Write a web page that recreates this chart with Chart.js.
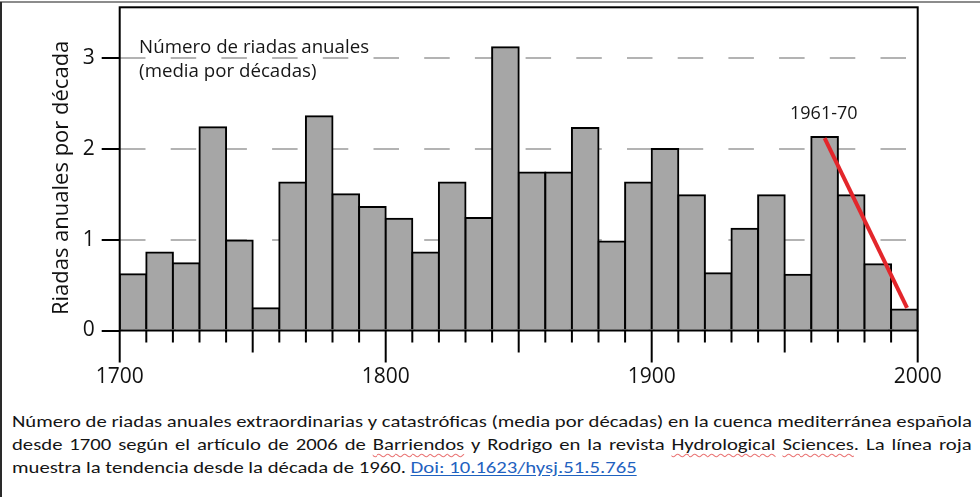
<!DOCTYPE html>
<html>
<head>
<meta charset="utf-8">
<script src="https://cdn.jsdelivr.net/npm/chart.js@4"></script>
<style>
html,body{margin:0;padding:0;background:#fff;}
#wrap{position:relative;width:980px;height:497px;overflow:hidden;background:#fff;}
#c{position:absolute;left:0;top:0;}
.frame-top{position:absolute;left:0;top:1px;width:980px;height:0;border-top:2px solid #8c8c8c;}
.frame-left{position:absolute;left:0;top:2px;width:0;height:495px;border-left:2px solid #2a2a2a;}
.cap{position:absolute;left:12px;white-space:nowrap;font-family:'Liberation Sans Narrow','Carlito','Arial Narrow','Liberation Sans',sans-serif;font-size:17px;line-height:23px;color:#151515;transform-origin:0 0;}
.sp{text-decoration:underline wavy rgba(225,70,70,0.75);text-decoration-thickness:1px;text-underline-offset:3px;}
.lnk{color:#1f62c0;text-decoration:underline;text-decoration-color:#1f62c0;text-underline-offset:2px;}
</style>
</head>
<body>
<div id="wrap">
<canvas id="c" width="980" height="400"></canvas>
<div class="frame-top"></div><div class="frame-left"></div>
<div class="cap" id="l1" style="top:410px">Número de riadas anuales extraordinarias y catastróficas (media por décadas) en la cuenca mediterránea española</div>
<div class="cap" id="l2" style="top:433px">desde 1700 según el artículo de 2006 de <span class="sp">Barriendos</span> y Rodrigo en la revista <span class="sp">Hydrological</span> <span class="sp">Sciences</span>. La línea roja</div>
<div class="cap" id="l3" style="top:456px">muestra la tendencia desde la década de 1960. <a class="lnk">Doi: 10.1623/hysj.51.5.765</a></div>
</div>
<script>
// Decade centres (categories)
const decades = [1705, 1715, 1725, 1735, 1745, 1755, 1765, 1775, 1785, 1795,
                 1805, 1815, 1825, 1835, 1845, 1855, 1865, 1875, 1885, 1895,
                 1905, 1915, 1925, 1935, 1945, 1955, 1965, 1975, 1985, 1995];
// Mean annual floods per decade
const floods = [0.62, 0.86, 0.74, 2.24, 0.99, 0.245, 1.63, 2.36, 1.50, 1.36,
                1.23, 0.86, 1.63, 1.24, 3.12, 1.74, 1.74, 2.23, 0.98, 1.63,
                2.00, 1.49, 0.63, 1.12, 1.49, 0.615, 2.13, 1.49, 0.73, 0.23];
// Red trend line since the 1960s
const trendX = [1965, 1996];
const trendY = [2.12, 0.25];
// Tick labels
const xLabels = [1700, 1800, 1900, 2000];
const yTicks = [0, 1, 2, 3];
const yTitle = 'Riadas anuales por década';
const annotLines = ['Número de riadas anuales', '(media por décadas)'];
const peakLabel = '1961-70';

const decor = {
  id: 'decor',
  afterDatasetsDraw(chart) {
    const {ctx, chartArea: a, scales: {x, y}} = chart;
    ctx.save();
    ctx.strokeStyle = '#000';
    ctx.lineWidth = 2;
    ctx.strokeRect(a.left, a.top, a.right - a.left, a.bottom - a.top);
    // decade tick marks
    x.ticks.forEach(t => {
      const v = Math.round(t.value);
      const px = x.getPixelForValue(v);
      const len = v % 100 === 0 ? 32 : (v % 50 === 0 ? 22 : 12);
      ctx.beginPath();
      ctx.moveTo(px, a.bottom);
      ctx.lineTo(px, a.bottom + len);
      ctx.stroke();
    });
    // annotations
    ctx.fillStyle = '#161616';
    ctx.textBaseline = 'alphabetic';
    ctx.textAlign = 'left';
    ctx.font = '18.7px "Open Sans"';
    ctx.fillText(annotLines[0], x.getPixelForValue(1707.3), y.getPixelForValue(3.055));
    ctx.fillText(annotLines[1], x.getPixelForValue(1707.3), y.getPixelForValue(2.79));
    ctx.textAlign = 'center';
    ctx.font = '18px "Open Sans"';
    ctx.fillText(peakLabel, x.getPixelForValue(1964.7), y.getPixelForValue(2.33));
    // y axis title
    ctx.save();
    ctx.translate(62, (a.top + a.bottom) / 2 + 9);
    ctx.rotate(-Math.PI / 2);
    ctx.font = '22px "Open Sans"';
    ctx.fillStyle = '#111';
    ctx.textAlign = 'center';
    ctx.textBaseline = 'middle';
    ctx.fillText(yTitle, 0, 0);
    ctx.restore();
    ctx.restore();
  }
};

new Chart(document.getElementById('c'), {
  data: {
    datasets: [
      {
        type: 'line',
        data: trendX.map((v, i) => ({x: v, y: trendY[i]})),
        borderColor: '#e3262b',
        borderWidth: 4,
        pointRadius: 0,
        borderCapStyle: 'butt',
        order: 0
      },
      {
        type: 'bar',
        data: decades.map((v, i) => ({x: v, y: floods[i]})),
        backgroundColor: '#a6a6a6',
        borderColor: '#000',
        borderWidth: 2,
        inflateAmount: 1,
        barPercentage: 1,
        categoryPercentage: 1,
        order: 1
      }
    ]
  },
  options: {
    responsive: false,
    animation: false,
    layout: {padding: {left: 0, right: 62.3, top: 7.3, bottom: 0}},
    plugins: {legend: {display: false}, tooltip: {enabled: false}},
    scales: {
      x: {
        type: 'linear', min: 1700, max: 2000, offset: false,
        grid: {display: true, drawOnChartArea: false, drawTicks: true, tickLength: 32, tickColor: 'rgba(0,0,0,0)', offset: false},
        border: {display: false},
        ticks: {
          stepSize: 10, autoSkip: false, maxRotation: 0, padding: 2, color: '#111',
          font: {family: 'Open Sans', size: 21},
          callback: v => xLabels.includes(Math.round(v)) ? String(Math.round(v)) : ''
        },
        afterFit: s => { s.height = 400 - 330.5; s.paddingLeft = 0; s.paddingRight = 0; }
      },
      y: {
        min: 0, max: 3.56,
        afterBuildTicks: s => { s.ticks = yTicks.map(v => ({value: v})); },
        grid: {
          color: c => (c.tick && c.tick.value === 0) ? 'rgba(0,0,0,0)' : '#b3b3b3',
          lineWidth: 2, tickLength: 18, tickColor: '#000', tickWidth: 2
        },
        border: {display: false, dash: [25.5, 25.2]},
        ticks: {padding: 7, color: '#111', font: {family: 'Open Sans', size: 21}},
        title: {display: false},
        afterFit: s => { s.width = 119.7; s.paddingTop = 0; s.paddingBottom = 0; }
      }
    }
  },
  plugins: [decor]
});

// fit caption lines to the reference widths
function fitCaption() {
  const l1 = document.getElementById('l1');
  const l2 = document.getElementById('l2');
  const l3 = document.getElementById('l3');
  const w1 = l1.getBoundingClientRect().width;
  const s = 960 / w1;
  [l1, l2, l3].forEach(el => { el.style.transform = 'scaleX(' + s + ')'; });
  const w2 = l2.scrollWidth;
  const gaps = (l2.textContent.match(/ /g) || []).length;
  const extra = 959 / s - w2;
  if (gaps > 0) l2.style.wordSpacing = (extra / gaps) + 'px';
}
fitCaption();
</script>
</body>
</html>
